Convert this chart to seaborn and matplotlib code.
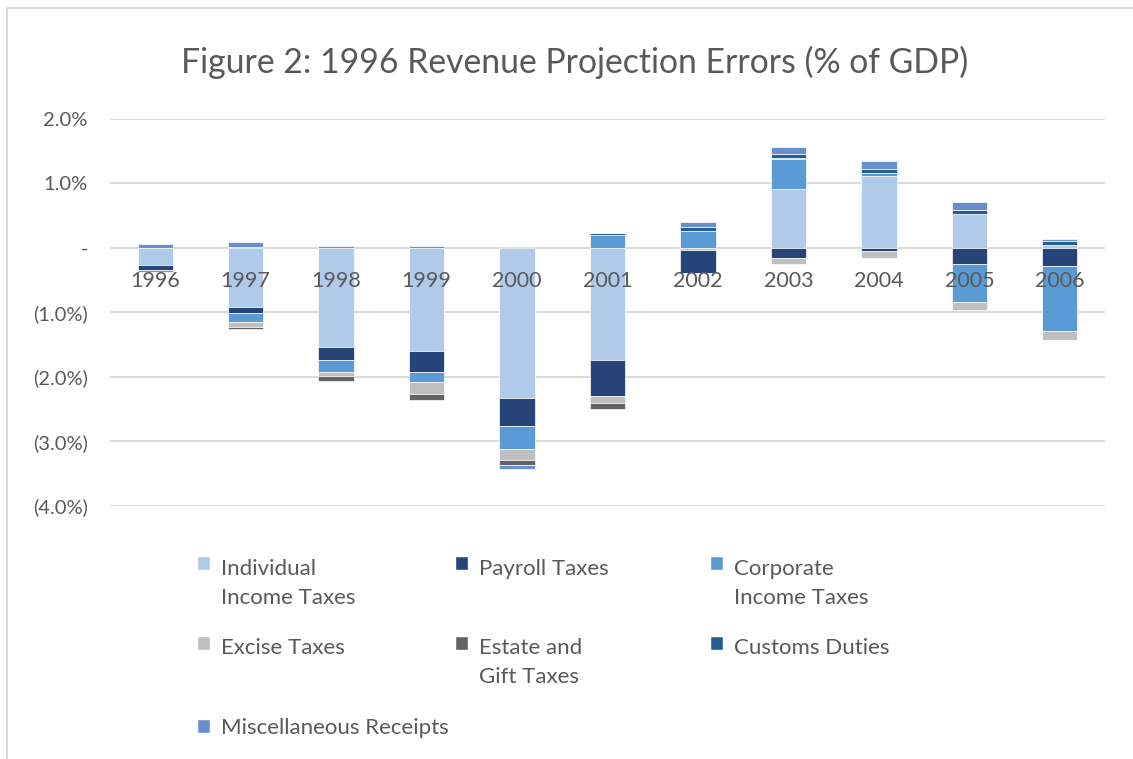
import numpy as np
import pandas as pd
import matplotlib.pyplot as plt
import seaborn as sns
from matplotlib.patches import Patch, Rectangle
from matplotlib.legend_handler import HandlerPatch
from matplotlib.ticker import FuncFormatter, MultipleLocator

# Projection errors by revenue source, % of GDP
years = [str(y) for y in range(1996, 2007)]
individual = [-0.27, -0.92, -1.53, -1.59, -2.33, -1.74, -0.03, 0.92, 1.12, 0.53, 0.05]
payroll = [-0.07, -0.09, -0.21, -0.33, -0.43, -0.56, -0.35, -0.15, -0.04, -0.25, -0.28]
corporate = [-0.03, -0.13, -0.18, -0.15, -0.36, 0.20, 0.27, 0.46, 0.05, -0.58, -1.01]
excise = [-0.01, -0.08, -0.07, -0.19, -0.17, -0.11, -0.02, -0.10, -0.12, -0.13, -0.13]
estate = [0.0, -0.04, -0.07, -0.09, -0.08, -0.08, 0.0, 0.02, 0.0, 0.0, 0.0]
customs = [0.0, 0.01, 0.0, 0.0, 0.02, 0.04, 0.05, 0.05, 0.06, 0.06, 0.055]
misc = [0.06, 0.08, 0.03, 0.03, -0.06, 0.0, 0.08, 0.11, 0.12, 0.12, 0.035]

series_names = ["Individual Income Taxes", "Payroll Taxes", "Corporate Income Taxes",
                "Excise Taxes", "Estate and Gift Taxes", "Customs Duties",
                "Miscellaneous Receipts"]
legend_labels = ["Individual\nIncome Taxes", "Payroll Taxes\n ", "Corporate\nIncome Taxes",
                 "Excise Taxes\n ", "Estate and\nGift Taxes", "Customs Duties\n ",
                 "Miscellaneous Receipts"]
series_values = [individual, payroll, corporate, excise, estate, customs, misc]
colors = ["#AFCBE9", "#264478", "#5B9BD5", "#BFBFBF", "#636363", "#255E91", "#698ED0"]

TEXT = "#595959"
W, H = 1133, 759


def pct_label(v, pos):
    if abs(v) < 1e-9:
        return "-"
    if v < 0:
        return f"({abs(v):.1f}%)"
    return f"{v:.1f}%"


sns.set_theme(style="white")
plt.rcParams['font.family'] = ['Lato', 'DejaVu Sans']

fig = plt.figure(figsize=(W / 100, H / 100), dpi=100)
ax = fig.add_axes([110 / W, 1 - 506 / H, 995 / W, 387 / H])

# stack positives upward and negatives downward, like Excel does
pos_base = np.zeros(len(years))
neg_base = np.zeros(len(years))
for name, vals, col in zip(series_names, series_values, colors):
    vals = np.array(vals, dtype=float)
    bottoms = np.where(vals >= 0, pos_base, neg_base)
    df = pd.DataFrame({"year": years, "value": vals})
    sns.barplot(data=df, x="year", y="value", bottom=bottoms, color=col,
                saturation=1, width=0.39, errorbar=None, ax=ax,
                edgecolor="white", linewidth=0.5)
    pos_base += np.where(vals > 0, vals, 0)
    neg_base += np.where(vals < 0, vals, 0)

ax.set_xlim(-0.5, len(years) - 0.5)
ax.set_ylim(-4, 2)
ax.set_xlabel("")
ax.set_ylabel("")
ax.yaxis.set_major_locator(MultipleLocator(1))
ax.yaxis.set_major_formatter(FuncFormatter(pct_label))
ax.yaxis.grid(True, color="#D9D9D9", linewidth=1.4)
ax.xaxis.grid(False)
for s in ax.spines.values():
    s.set_visible(False)
ax.spines["bottom"].set_position(("data", 0))
ax.set_axisbelow(True)
ax.xaxis.set_zorder(5)
ax.tick_params(axis="x", length=0, pad=16.5, labelsize=15.5, labelcolor=TEXT)
ax.tick_params(axis="y", length=0, pad=16, labelsize=14.5, labelcolor=TEXT)

fig.text(0.507, 1 - 62 / H, "Figure 2: 1996 Revenue Projection Errors (% of GDP)",
         ha="center", va="center", fontsize=24.3, color=TEXT)

# chart area border
fig.add_artist(Rectangle((7 / W, -0.1), 1.2, 1.1 - 8 / H, transform=fig.transFigure,
                         fill=False, edgecolor="#D9D9D9", linewidth=1.3))


# markers sit on the first line of two-line labels
def top_square(legend, orig_handle, xdescent, ydescent, width, height, fontsize):
    return Rectangle((-xdescent, -ydescent + 0.92 * fontsize), width, height)


def plain_square(legend, orig_handle, xdescent, ydescent, width, height, fontsize):
    return Rectangle((-xdescent, -ydescent), width, height)


handles = [Patch(facecolor=c, label=l) for c, l in zip(colors, legend_labels)]
hmap = {h: HandlerPatch(patch_func=top_square) for h in handles[:-1]}
hmap[handles[-1]] = HandlerPatch(patch_func=plain_square)
columns = [([0, 3, 6], 197), ([1, 4], 455), ([2, 5], 710)]
for idx, x0 in columns:
    leg = fig.legend(handles=[handles[i] for i in idx], loc="upper left",
                     bbox_to_anchor=(x0 / W, 1 - 559 / H), frameon=False,
                     fontsize=16, borderpad=0, borderaxespad=0,
                     handlelength=0.6, handleheight=0.6, handletextpad=0.5,
                     labelspacing=1.37, labelcolor=TEXT, handler_map=hmap)
    for t in leg.get_texts():
        t.set_linespacing(1.56)

fig.savefig("out.png", dpi=100)
